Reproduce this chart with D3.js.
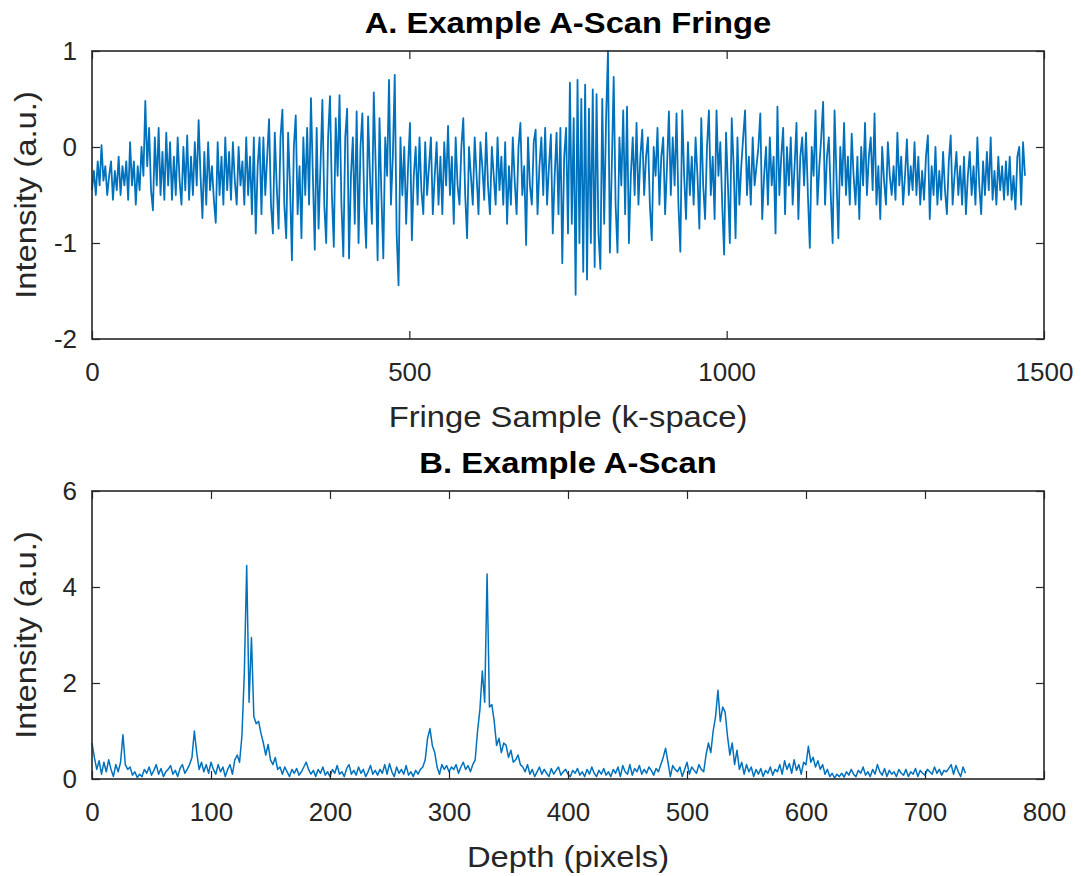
<!DOCTYPE html>
<html>
<head>
<meta charset="utf-8">
<script src="https://cdn.jsdelivr.net/npm/d3@7"></script>
<style>
  body { margin: 0; background: #fff; }
  text { font-family: "Liberation Sans", Arial, Helvetica, sans-serif; }
</style>
</head>
<body>
<script>
// A. fringe, one value every 3 samples (0..1470), 20 values per row
var fringeStep = 3
var fringeValues = [
  -0.45, -0.25, -0.5, -0.15, -0.4, 0.02, -0.35, -0.2, -0.5, -0.3, -0.15, -0.55, -0.25, -0.45, -0.1, -0.5, -0.2, -0.4, -0.15, -0.55,
  0.05, -0.4, -0.15, -0.6, -0.2, -0.45, 0.0, -0.3, 0.48, -0.2, 0.2, -0.45, -0.66, 0.1, -0.4, 0.2, -0.5, -0.05, -0.55, 0.15,
  -0.4, 0.05, -0.55, -0.1, -0.5, 0.1, -0.35, -0.6, 0.0, -0.45, 0.12, -0.55, -0.1, -0.5, 0.05, -0.4, 0.28, -0.3, -0.74, -0.05,
  -0.6, 0.05, -0.45, -0.2, -0.55, -0.79, 0.05, -0.5, -0.1, -0.6, 0.1, -0.45, -0.05, -0.55, 0.05, -0.35, -0.6, 0.0, -0.4, -0.15,
  -0.6, 0.1, -0.5, -0.1, -0.7, 0.1, -0.9, -0.2, 0.1, -0.7, 0.1, -0.5, -0.1, 0.29, -0.6, -0.9, 0.15, -0.4, -0.85, 0.1,
  0.39, -0.6, -0.95, 0.15, -0.4, -1.18, 0.0, 0.33, -0.7, -0.2, -0.95, 0.1, -0.5, 0.2, -0.6, 0.51, -0.3, -1.07, 0.2, -0.85,
  -0.2, 0.49, -0.6, -1.0, 0.1, 0.53, -0.5, -1.04, 0.3, -0.3, 0.54, -0.6, -1.14, 0.1, 0.4, -1.16, -0.3, 0.1, -0.8, 0.37,
  -1.0, 0.0, 0.35, -0.6, -1.05, 0.32, -0.3, -0.8, 0.57, -0.2, -1.18, 0.3, -0.5, -1.16, 0.1, -0.3, 0.7, -0.6, -0.1, 0.75,
  -0.9, -1.44, 0.1, -0.5, 0.0, -0.8, -0.2, 0.25, -0.97, -0.3, 0.0, -0.6, 0.1, -0.45, -0.7, 0.05, -0.5, -0.2, 0.1, -0.7,
  -0.3, 0.05, -0.6, -0.1, -0.7, 0.05, -0.4, 0.22, -0.5, -0.1, -0.8, 0.1, -0.4, -0.6, 0.0, 0.3, -0.5, -0.95, 0.0, -0.3,
  -0.6, 0.1, -0.3, -0.7, 0.05, -0.2, -0.55, 0.15, -0.4, -0.7, 0.0, -0.3, -0.6, 0.1, -0.45, -0.1, -0.6, 0.05, -0.8, -0.2,
  -0.6, 0.1, -0.35, -0.7, 0.0, 0.25, -0.5, -0.2, -1.02, 0.1, -0.4, -0.6, 0.05, 0.18, -0.7, -0.2, 0.1, -0.5, 0.2, -0.6,
  -0.2, 0.13, -0.9, -0.3, 0.15, -0.7, 0.2, -1.21, -0.1, 0.2, -0.9, 0.67, -0.8, 0.3, -1.54, 0.7, -1.0, 0.5, -1.3, 0.65,
  -1.38, 0.4, -1.0, 0.6, -1.25, 0.55, -0.9, -1.27, 0.5, -0.8, 0.3, 1.0, -1.1, -0.2, 0.73, -0.6, -1.1, 0.1, -0.4, 0.38,
  -0.7, 0.42, -1.0, -0.3, 0.1, -0.5, 0.25, -0.6, -0.1, 0.18, -0.5, -0.1, 0.1, -0.6, -0.97, 0.0, -0.3, 0.2, -0.6, -0.1,
  0.1, -0.7, -0.2, 0.37, -0.5, 0.1, -0.4, 0.35, -0.6, -1.09, 0.38, -0.3, -0.75, 0.05, -0.5, -0.1, -0.6, 0.1, -0.3, -0.85,
  0.3, -0.4, -0.75, 0.0, 0.38, -0.5, -0.1, -0.75, 0.38, -0.3, 0.05, -0.6, -1.12, 0.15, -0.4, -1.0, 0.3, -0.2, -0.95, 0.1,
  -0.6, -0.2, 0.1, 0.38, -0.5, -0.1, -0.6, 0.1, -0.4, -0.2, 0.0, 0.35, -0.75, -0.3, 0.0, -0.6, 0.1, -0.4, -0.1, -0.9,
  0.42, -0.5, -0.1, 0.2, -0.7, 0.0, -0.4, 0.1, -0.6, -0.2, 0.25, -0.75, -0.1, 0.1, -0.4, 0.15, -0.5, -1.05, 0.0, -0.3,
  0.38, -0.6, -0.2, 0.1, 0.47, -0.6, -0.1, 0.1, -0.5, -1.0, 0.38, -0.3, -0.95, 0.0, -0.4, 0.25, -0.5, -0.1, -0.6, 0.14,
  -0.3, -0.6, -0.1, -0.75, 0.0, -0.4, 0.25, -0.5, -0.1, 0.1, -0.45, 0.35, -0.6, -0.2, -0.75, 0.0, -0.35, -0.6, 0.05, -0.3,
  -0.5, -0.2, -0.55, 0.15, -0.4, -0.1, -0.6, -0.3, 0.08, -0.5, -0.2, -0.45, 0.05, -0.5, -0.1, -0.6, -0.25, -0.55, -0.1, 0.12,
  -0.75, -0.2, -0.5, 0.0, -0.6, -0.25, -0.55, -0.05, -0.45, -0.7, -0.15, 0.12, -0.6, -0.3, -0.05, -0.5, -0.2, -0.6, -0.1, -0.7,
  -0.3, -0.05, -0.5, -0.2, -0.6, 0.1, -0.4, -0.7, -0.15, -0.5, -0.05, -0.45, 0.1, -0.55, -0.25, -0.6, -0.1, -0.45, -0.2, -0.55,
  -0.15, -0.5, -0.1, -0.55, -0.3, -0.65, -0.1, 0.0, -0.6, 0.05, -0.3
]
var fringeXTicks = [0, 500, 1000, 1500]
var fringeYTicks = [-2, -1, 0, 1]

// B. A-scan, one value every 2 depth pixels (0..734)
var scanStep = 2
var scanValues = [
  0.75, 0.45, 0.2, 0.38, 0.1, 0.35, 0.15, 0.4, 0.2, 0.05, 0.3, 0.15, 0.35, 0.92, 0.3, 0.2, 0.25, 0.08, 0.15, 0.03,
  0.1, 0.05, 0.2, 0.12, 0.25, 0.08, 0.18, 0.3, 0.1, 0.22, 0.05, 0.15, 0.2, 0.28, 0.1, 0.18, 0.05, 0.22, 0.3, 0.12,
  0.2, 0.3, 0.45, 1.0, 0.55, 0.2, 0.35, 0.15, 0.3, 0.12, 0.35, 0.2, 0.1, 0.3, 0.15, 0.25, 0.05, 0.2, 0.3, 0.1,
  0.4, 0.5, 0.35, 0.9, 2.2, 4.45, 1.6, 2.95, 1.3, 1.15, 1.2, 0.95, 0.75, 0.5, 0.72, 0.4, 0.3, 0.45, 0.2, 0.25,
  0.1, 0.25, 0.15, 0.05, 0.2, 0.12, 0.22, 0.08, 0.15, 0.25, 0.35, 0.2, 0.1, 0.18, 0.05, 0.2, 0.12, 0.25, 0.08, 0.15,
  0.05, 0.2, 0.12, 0.28, 0.1, 0.15, 0.05, 0.22, 0.3, 0.1, 0.18, 0.08, 0.25, 0.12, 0.2, 0.05, 0.15, 0.28, 0.1, 0.18,
  0.08, 0.2, 0.12, 0.3, 0.1, 0.32, 0.15, 0.05, 0.25, 0.12, 0.2, 0.1, 0.28, 0.08, 0.15, 0.05, 0.18, 0.1, 0.2, 0.25,
  0.4, 0.85, 1.05, 0.7, 0.55, 0.25, 0.1, 0.3, 0.2, 0.28, 0.15, 0.25, 0.2, 0.3, 0.12, 0.25, 0.35, 0.2, 0.28, 0.15,
  0.3, 0.4, 1.0, 1.45, 2.25, 1.6, 4.27, 1.5, 1.55, 1.2, 0.7, 0.85, 0.55, 0.75, 0.7, 0.45, 0.6, 0.35, 0.4, 0.5,
  0.3, 0.25, 0.15, 0.3, 0.1, 0.2, 0.05, 0.15, 0.25, 0.1, 0.2, 0.12, 0.05, 0.22, 0.1, 0.18, 0.25, 0.08, 0.15, 0.2,
  0.1, 0.05, 0.18, 0.12, 0.22, 0.08, 0.15, 0.05, 0.2, 0.1, 0.25, 0.12, 0.05, 0.18, 0.1, 0.22, 0.08, 0.15, 0.05, 0.2,
  0.12, 0.25, 0.05, 0.28, 0.15, 0.1, 0.3, 0.08, 0.22, 0.15, 0.28, 0.1, 0.2, 0.12, 0.25, 0.18, 0.08, 0.22, 0.15, 0.3,
  0.45, 0.64, 0.35, 0.05, 0.28, 0.2, 0.15, 0.25, 0.05, 0.2, 0.35, 0.1, 0.25, 0.18, 0.12, 0.3, 0.2, 0.15, 0.5, 0.75,
  0.55, 1.0, 1.3, 1.85, 1.2, 1.5, 1.4, 0.9, 0.5, 0.75, 0.3, 0.6, 0.2, 0.35, 0.1, 0.3, 0.15, 0.25, 0.05, 0.2,
  0.1, 0.22, 0.05, 0.18, 0.12, 0.25, 0.08, 0.2, 0.15, 0.3, 0.1, 0.38, 0.2, 0.32, 0.12, 0.4, 0.18, 0.3, 0.1, 0.35,
  0.3, 0.68, 0.35, 0.45, 0.25, 0.38, 0.2, 0.3, 0.1, 0.2, 0.05, 0.12, 0.02, 0.1, 0.05, 0.12, 0.04, 0.15, 0.08, 0.2,
  0.1, 0.05, 0.18, 0.12, 0.25, 0.08, 0.15, 0.05, 0.2, 0.1, 0.3, 0.15, 0.08, 0.22, 0.05, 0.18, 0.1, 0.15, 0.05, 0.2,
  0.12, 0.08, 0.2, 0.05, 0.15, 0.1, 0.22, 0.05, 0.18, 0.12, 0.08, 0.2, 0.15, 0.1, 0.25, 0.12, 0.2, 0.08, 0.18, 0.15,
  0.22, 0.3, 0.1, 0.28, 0.15, 0.05, 0.25, 0.12
]
var scanXTicks = [0, 100, 200, 300, 400, 500, 600, 700, 800]
var scanYTicks = [0, 2, 4, 6]

var W = 1081, H = 876
var axisColor = '#262626', lineColor = '#0072BD'
var plotLeft = 92, plotWidth = 952, plotHeight = 288
var tick = 8
var stretch = 'scale(1.13,1)' // the reference type is wider than Liberation Sans

var svg = d3.select('body')
  .append('svg')
    .attr('width', W)
    .attr('height', H)

function drawPanel(o) {
  var x = d3.scaleLinear().domain(o.xDomain).range([0, plotWidth])
  var y = d3.scaleLinear().domain(o.yDomain).range([plotHeight, 0])
  var plain = function(d) { return String(d) }

  var g = svg.append('g')
    .attr('transform', 'translate(' + plotLeft + ',' + o.top + ')')

  var line = d3.line()
    .x(function(d, i) { return x(i * o.step) })
    .y(function(d) { return y(d) })

  g.append('path')
    .datum(o.values)
    .attr('fill', 'none')
    .attr('stroke', lineColor)
    .attr('stroke-width', o.lineWidth)
    .attr('stroke-linejoin', 'round')
    .attr('d', line)

  // ticks pointing inward on all four sides, labels only bottom / left
  var bottom = g.append('g')
    .attr('transform', 'translate(0,' + plotHeight + ')')
    .call(d3.axisBottom(x).tickValues(o.xTicks).tickSizeInner(-tick).tickSizeOuter(0).tickPadding(24).tickFormat(plain))
  var top = g.append('g')
    .call(d3.axisTop(x).tickValues(o.xTicks).tickSizeInner(-tick).tickSizeOuter(0).tickFormat(''))
  var left = g.append('g')
    .call(d3.axisLeft(y).tickValues(o.yTicks).tickSizeInner(-tick).tickSizeOuter(0).tickPadding(15).tickFormat(plain))
  var right = g.append('g')
    .attr('transform', 'translate(' + plotWidth + ',0)')
    .call(d3.axisRight(y).tickValues(o.yTicks).tickSizeInner(-tick).tickSizeOuter(0).tickFormat(''))

  ;[bottom, top, left, right].forEach(function(a) {
    a.select('.domain').remove()
    a.selectAll('line').attr('stroke', axisColor).attr('stroke-width', 1.2)
    a.selectAll('text').attr('fill', axisColor).attr('font-size', 26)
  })

  g.append('rect')
    .attr('width', plotWidth)
    .attr('height', plotHeight)
    .attr('fill', 'none')
    .attr('stroke', axisColor)
    .attr('stroke-width', 1.6)

  g.append('text')
    .attr('transform', 'translate(' + (plotWidth / 2) + ',-18) ' + stretch)
    .attr('text-anchor', 'middle')
    .attr('font-size', 29)
    .attr('font-weight', 'bold')
    .attr('fill', '#000')
    .text(o.title)

  g.append('text')
    .attr('transform', 'translate(' + (plotWidth / 2) + ',' + (plotHeight + 88) + ') ' + stretch)
    .attr('text-anchor', 'middle')
    .attr('font-size', 29)
    .attr('fill', axisColor)
    .text(o.xLabel)

  g.append('text')
    .attr('transform', 'translate(' + (36 - plotLeft) + ',' + (plotHeight / 2) + ') rotate(-90) ' + stretch)
    .attr('text-anchor', 'middle')
    .attr('font-size', 29)
    .attr('fill', axisColor)
    .text(o.yLabel)
}

drawPanel({
  top: 51, step: fringeStep, values: fringeValues, lineWidth: 1.8,
  xDomain: [0, 1500], yDomain: [-2, 1], xTicks: fringeXTicks, yTicks: fringeYTicks,
  title: 'A. Example A-Scan Fringe', xLabel: 'Fringe Sample (k-space)', yLabel: 'Intensity (a.u.)'
})

drawPanel({
  top: 491, step: scanStep, values: scanValues, lineWidth: 1.5,
  xDomain: [0, 800], yDomain: [0, 6], xTicks: scanXTicks, yTicks: scanYTicks,
  title: 'B. Example A-Scan', xLabel: 'Depth (pixels)', yLabel: 'Intensity (a.u.)'
})
</script>
</body>
</html>
